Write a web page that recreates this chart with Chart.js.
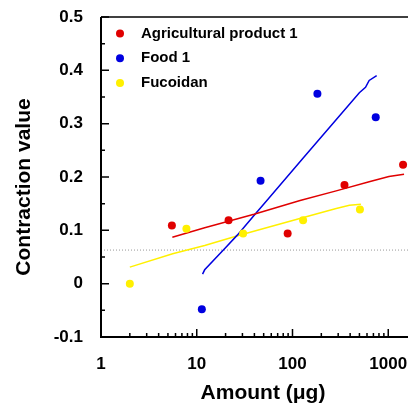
<!DOCTYPE html>
<html>
<head>
<meta charset="utf-8">
<script src="https://cdn.jsdelivr.net/npm/chart.js@4.4.0/dist/chart.umd.min.js"></script>
<style>
html, body { margin: 0; padding: 0; background: #fff; }
#wrap { width: 412px; height: 406px; }
</style>
</head>
<body>
<div id="wrap"><canvas id="chart" width="412" height="406"></canvas></div>
<script>
// measured points
const agriX = [5.5, 21.5, 89, 349, 1428];
const agriY = [0.109, 0.119, 0.094, 0.185, 0.223];
const foodX = [11.3, 46.4, 182, 740];
const foodY = [-0.048, 0.193, 0.356, 0.312];
const fucoX = [2.0, 7.8, 30.5, 129, 506];
const fucoY = [0.0, 0.103, 0.094, 0.119, 0.139];

// fitted curves
const agriFitX = [5.56, 12.1, 39.6, 120, 286, 632, 1016, 1462];
const agriFitY = [0.087, 0.105, 0.130, 0.156, 0.174, 0.191, 0.201, 0.205];
const foodFitX = [11.5, 12.1, 19.4, 26.5, 39.6, 54, 130, 284, 499, 579, 632, 757];
const foodFitY = [0.018, 0.026, 0.065, 0.091, 0.128, 0.156, 0.236, 0.307, 0.358, 0.368, 0.381, 0.390];
const fucoFitX = [2.0, 5.6, 12.1, 26.7, 130, 286, 393, 518];
const fucoFitY = [0.031, 0.056, 0.0715, 0.090, 0.124, 0.141, 0.147, 0.149];

// threshold (dotted line)
const thresholdX = [1, 1608];
const thresholdY = [0.063, 0.063];

const seriesNames = ['Agricultural product 1', 'Food 1', 'Fucoidan'];
const xTicks = [1, 10, 100, 1000];
const xTickLabels = ['1', '10', '100', '1000'];
const yTicks = [-0.1, 0, 0.1, 0.2, 0.3, 0.4, 0.5];
const yTickLabels = ['-0.1', '0', '0.1', '0.2', '0.3', '0.4', '0.5'];
const xTitle = 'Amount (\u03bcg)';
const yTitle = 'Contraction value';

const RED = '#e00000';
const BLUE = '#0000e0';
const YELLOW = '#fff000';
const FONT = "'Liberation Sans', Arial, sans-serif";

const zip = (xs, ys) => xs.map((x, i) => ({x: x, y: ys[i]}));

const pointSet = (label, xs, ys, color) => ({
    label: label,
    data: zip(xs, ys),
    backgroundColor: color,
    borderColor: color,
    pointRadius: 4,
    pointBorderWidth: 0,
    showLine: false
});

const lineSet = (xs, ys, color) => ({
    type: 'line',
    data: zip(xs, ys),
    borderColor: color,
    borderWidth: 1.5,
    pointRadius: 0,
    tension: 0,
    fill: false
});

const frame = {
    id: 'frame',
    afterDraw(chart) {
        const ctx = chart.ctx;
        const a = chart.chartArea;
        const xs = chart.scales.x;
        const ys = chart.scales.y;
        ctx.save();
        ctx.strokeStyle = '#000';

        // tick marks, pointing inward
        ctx.lineWidth = 1.5;
        ctx.beginPath();
        for (let d = 1; d <= 1000; d *= 10) {
            for (let m = 1; m <= 9; m++) {
                const v = m * d;
                if (v > xs.max) break;
                const px = xs.getPixelForValue(v);
                ctx.moveTo(px, a.bottom);
                ctx.lineTo(px, a.bottom - (m === 1 ? 8 : 4));
            }
        }
        for (let i = 0; i <= 12; i++) {
            const v = -0.1 + i * 0.05;
            const py = ys.getPixelForValue(v);
            ctx.moveTo(a.left, py);
            ctx.lineTo(a.left + (i % 2 === 0 ? 8 : 4), py);
        }
        ctx.stroke();

        // axes box
        ctx.lineWidth = 2;
        ctx.beginPath();
        ctx.moveTo(a.left, a.top);
        ctx.lineTo(a.left, a.bottom);
        ctx.lineTo(a.right, a.bottom);
        ctx.stroke();
        ctx.lineWidth = 1.5;
        ctx.beginPath();
        ctx.moveTo(a.left, a.top);
        ctx.lineTo(a.right, a.top);
        ctx.stroke();

        // axis titles
        ctx.fillStyle = '#000';
        ctx.font = 'bold 21px ' + FONT;
        ctx.textAlign = 'center';
        ctx.textBaseline = 'middle';
        ctx.fillText(xTitle, 263, 393);
        ctx.save();
        ctx.translate(24, 187);
        ctx.rotate(-Math.PI / 2);
        ctx.fillText(yTitle, 0, 0);
        ctx.restore();

        // legend
        ctx.font = 'bold 15px ' + FONT;
        ctx.textAlign = 'left';
        const colors = [RED, BLUE, YELLOW];
        seriesNames.forEach((name, i) => {
            const y = 33.5 + i * 24.7;
            ctx.fillStyle = colors[i];
            ctx.beginPath();
            ctx.arc(120, y, 4, 0, Math.PI * 2);
            ctx.fill();
            ctx.fillStyle = '#000';
            ctx.fillText(name, 141, y);
        });
        ctx.restore();
    }
};

new Chart(document.getElementById('chart'), {
    type: 'scatter',
    data: {
        datasets: [
            pointSet(seriesNames[0], agriX, agriY, RED),
            pointSet(seriesNames[1], foodX, foodY, BLUE),
            pointSet(seriesNames[2], fucoX, fucoY, YELLOW),
            lineSet(agriFitX, agriFitY, RED),
            lineSet(foodFitX, foodFitY, BLUE),
            lineSet(fucoFitX, fucoFitY, YELLOW),
            Object.assign(lineSet(thresholdX, thresholdY, '#999'), {borderWidth: 1, borderDash: [1, 2]})
        ]
    },
    options: {
        responsive: false,
        devicePixelRatio: 1,
        animation: false,
        layout: { padding: { top: 17, left: 0, right: 0, bottom: 0 } },
        plugins: { legend: { display: false }, tooltip: { enabled: false } },
        scales: {
            x: {
                type: 'logarithmic',
                min: 1,
                max: 1608,
                grid: { display: false, drawTicks: false },
                border: { display: false },
                afterBuildTicks: s => { s.ticks = xTicks.map(v => ({value: v})); },
                afterFit: s => { s.height = 69; s.paddingLeft = 0; s.paddingRight = 0; },
                ticks: {
                    autoSkip: false,
                    maxRotation: 0,
                    padding: 17,
                    color: '#000',
                    font: { family: FONT, size: 17, weight: 'bold' },
                    callback: (v, i) => xTickLabels[i]
                }
            },
            y: {
                min: -0.1,
                max: 0.5,
                grid: { display: false, drawTicks: false },
                border: { display: false },
                afterBuildTicks: s => { s.ticks = yTicks.map(v => ({value: v})); },
                afterFit: s => { s.width = 101; s.paddingTop = 0; s.paddingBottom = 0; },
                ticks: {
                    padding: 18,
                    color: '#000',
                    font: { family: FONT, size: 17, weight: 'bold' },
                    callback: (v, i) => yTickLabels[i]
                }
            }
        }
    },
    plugins: [frame]
});
</script>
</body>
</html>
